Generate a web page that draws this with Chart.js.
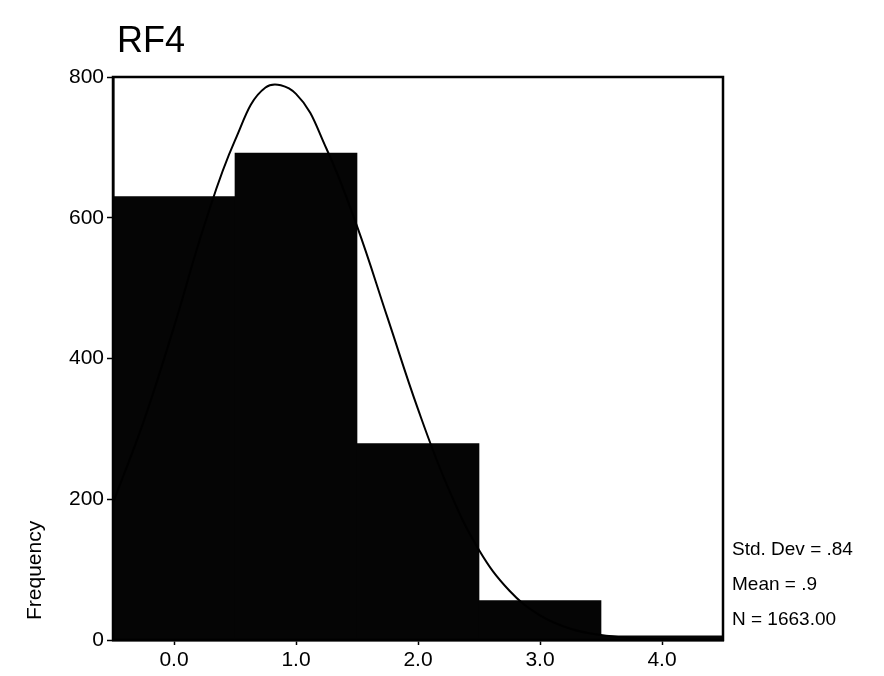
<!DOCTYPE html>
<html>
<head>
<meta charset="utf-8">
<script src="https://cdn.jsdelivr.net/npm/chart.js@4/dist/chart.umd.min.js"></script>
<style>
  html, body { margin: 0; padding: 0; background: #fff; }
  #wrap { width: 884px; height: 676px; position: relative; }
</style>
</head>
<body>
<div id="wrap"><canvas id="hist"></canvas></div>
<script>
// histogram values
const binCenters = [0, 1, 2, 3, 4];
const frequencies = [630, 692, 279, 56, 6];
const xTickValues = [0, 1, 2, 3, 4];
const yTickValues = [0, 200, 400, 600, 800];

// normal curve
const curveX = [-0.5, -0.25, 0, 0.25, 0.5, 0.75, 1.0, 1.25, 1.5, 1.75, 2.0, 2.25, 2.5, 2.75, 3.0, 3.25, 3.5, 3.75, 4.0, 4.25, 4.5];
const curveY = [195, 310, 445, 590, 710, 785, 776, 698, 588, 458, 328, 215, 128, 70, 35, 16, 7, 3, 1, 0.4, 0.1];

const title = "RF4";
const yTitle = "Frequency";
const stats = ["Std. Dev = .84", "Mean = .9", "N = 1663.00"];

const font = "'Liberation Sans', Arial, sans-serif";

const barData = binCenters.map((x, i) => ({ x: x, y: frequencies[i] }));
const curveData = curveX.map((x, i) => ({ x: x, y: curveY[i] }));

// frame, title, axis title and stats box
const extras = {
  id: "extras",
  afterDatasetsDraw(chart) {
    const ctx = chart.ctx;
    const a = chart.chartArea;
    ctx.save();
    ctx.strokeStyle = "#000";
    ctx.lineWidth = 2.5;
    ctx.strokeRect(a.left, a.top, a.right - a.left, a.bottom - a.top);
    ctx.fillStyle = "#000";
    ctx.font = "36px " + font;
    ctx.textBaseline = "alphabetic";
    ctx.textAlign = "left";
    ctx.fillText(title, a.left + 4, 52);
    ctx.font = "19px " + font;
    ctx.fillText(stats[0], a.right + 9, 555);
    ctx.fillText(stats[1], a.right + 9, 590);
    ctx.fillText(stats[2], a.right + 9, 625);
    ctx.translate(41, 620);
    ctx.rotate(-Math.PI / 2);
    ctx.font = "21px " + font;
    ctx.fillText(yTitle, 0, 0);
    ctx.restore();
  }
};

const chart = new Chart(document.getElementById("hist"), {
  data: {
    datasets: [
      {
        type: "line",
        data: curveData,
        borderColor: "#000",
        borderWidth: 2,
        pointRadius: 0,
        tension: 0.4,
        fill: false,
        order: 0
      },
      {
        type: "bar",
        data: barData,
        backgroundColor: "#050505",
        borderWidth: 0,
        barPercentage: 1,
        categoryPercentage: 1,
        order: 1
      }
    ]
  },
  options: {
    responsive: true,
    maintainAspectRatio: false,
    animation: false,
    layout: { padding: { top: 77, right: 161, bottom: 0, left: 0 } },
    plugins: { legend: { display: false }, tooltip: { enabled: false }, title: { display: false } },
    scales: {
      x: {
        type: "linear",
        min: -0.5,
        max: 4.5,
        offset: false,
        afterBuildTicks: s => { s.ticks = xTickValues.map(v => ({ value: v })); },
        afterFit: s => { s.height = 36; },
        border: { display: true, color: "#000", width: 2.5 },
        grid: { offset: false, drawOnChartArea: false, tickLength: 5, color: "#000", tickWidth: 1.5 },
        ticks: { color: "#000", font: { family: font, size: 21 }, padding: 3, callback: v => v.toFixed(1), maxRotation: 0 }
      },
      y: {
        min: 0,
        max: 800,
        afterBuildTicks: s => { s.ticks = yTickValues.map(v => ({ value: v })); },
        afterFit: s => { s.width = 113; },
        border: { display: true, color: "#000", width: 2.5 },
        grid: { drawOnChartArea: false, tickLength: 6, color: "#000", tickWidth: 1.5 },
        ticks: { color: "#000", font: { family: font, size: 21 }, padding: 3 }
      }
    }
  },
  plugins: [extras]
});
</script>
</body>
</html>
